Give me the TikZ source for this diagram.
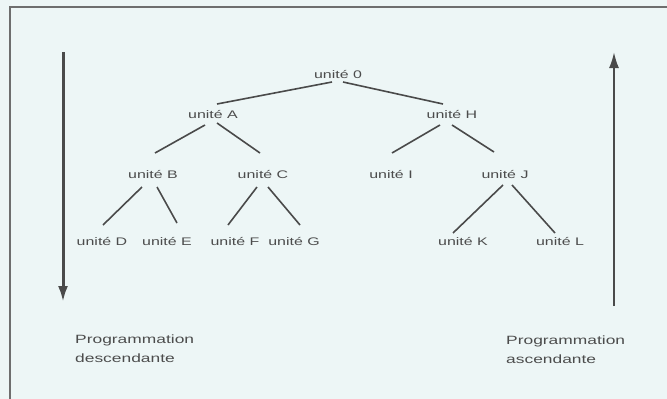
\documentclass[tikz,border=0pt]{standalone}
\usepackage{fontspec}
\setmainfont{Liberation Sans}[FakeStretch=1.45]
\usetikzlibrary{arrows.meta}
\definecolor{bgc}{HTML}{EDF6F6}
\definecolor{ink}{HTML}{4A4A4A}
\definecolor{txt}{HTML}{4C4C4C}
\tikzset{
  unit/.style={font=\fontsize{11}{13}\selectfont, text=txt, inner sep=1pt},
  captext/.style={font=\fontsize{12}{14}\selectfont, text=txt, anchor=base west, inner sep=0pt},
  treelink/.style={draw=ink, line width=1.6pt},
  framestyle/.style={draw=ink!80, line width=1.8pt},
}
\begin{document}
\begin{tikzpicture}[x=1pt,y=-1pt]
\fill[bgc] (0,0) rectangle (667,399);
\useasboundingbox (0,0) rectangle (667,399);
% frame
\draw[framestyle] (667,7) -- (10,7) -- (10,399);
% nodes
\node[unit] (N0) at (338,75) {unité 0};
\node[unit] (A) at (213,115) {unité A};
\node[unit] (H) at (452,115) {unité H};
\node[unit] (B) at (153,175) {unité B};
\node[unit] (C) at (263,175) {unité C};
\node[unit] (I) at (391,175) {unité I};
\node[unit] (J) at (505,175) {unité J};
\node[unit] (D) at (102,242) {unité D};
\node[unit] (E) at (167,242) {unité E};
\node[unit] (F) at (235,242) {unité F};
\node[unit] (G) at (294,242) {unité G};
\node[unit] (K) at (463,242) {unité K};
\node[unit] (L) at (560,242) {unité L};
% edges
\draw[treelink] ([shift={(-6,7)}]N0.center) -- ([shift={(4,-11)}]A.center);
\draw[treelink] ([shift={(5,7)}]N0.center) -- ([shift={(-9,-11)}]H.center);
\draw[treelink] ([shift={(-8,10)}]A.center) -- ([shift={(2,-22)}]B.center);
\draw[treelink] ([shift={(4,8)}]A.center) -- ([shift={(-3,-22)}]C.center);
\draw[treelink] ([shift={(-12,10)}]H.center) -- ([shift={(1,-22)}]I.center);
\draw[treelink] ([shift={(0,10)}]H.center) -- ([shift={(-11,-23)}]J.center);
\draw[treelink] ([shift={(-11,12)}]B.center) -- ([shift={(1,-17)}]D.center);
\draw[treelink] ([shift={(4,12)}]B.center) -- ([shift={(10,-19)}]E.center);
\draw[treelink] ([shift={(-6,12)}]C.center) -- ([shift={(-7,-17)}]F.center);
\draw[treelink] ([shift={(5,12)}]C.center) -- ([shift={(6,-17)}]G.center);
\draw[treelink] ([shift={(-2,10)}]J.center) -- ([shift={(-10,-9)}]K.center);
\draw[treelink] ([shift={(7,10)}]J.center) -- ([shift={(-5,-9)}]L.center);
% arrows
\coordinate (ld0) at (63,52);
\coordinate (ld1) at (63,302);
\coordinate (ru0) at (614,306);
\coordinate (ru1) at (614,52);
\draw[draw=ink, line width=3pt, -{Latex[length=16pt,width=10pt]}] (ld0) -- (ld1);
\draw[draw=ink, line width=2pt, -{Latex[length=16pt,width=10pt]}] (ru0) -- (ru1);
% captions
\node[captext] (dl1) at (75,343) {Programmation};
\node[captext] (dl2) at (75,362) {descendante};
\node[captext] (al1) at (506,344) {Programmation};
\node[captext] (al2) at (506,363) {ascendante};
\end{tikzpicture}
\end{document}
